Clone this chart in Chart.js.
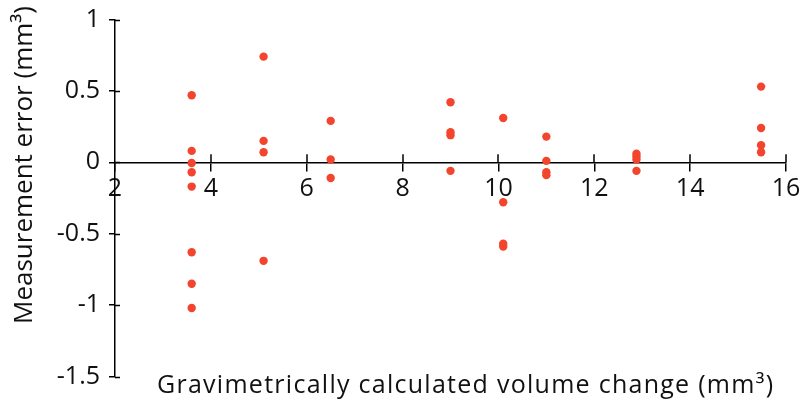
<!DOCTYPE html>
<html>
<head>
<meta charset="utf-8">
<script src="https://cdn.jsdelivr.net/npm/chart.js@4"></script>
<style>
  html, body { margin: 0; padding: 0; background: #fff; }
  #wrap { width: 808px; height: 409px; }
</style>
</head>
<body>
<div id="wrap"><canvas id="c" width="808" height="409"></canvas></div>
<script>
// ---- data ----
const volumeChange = [
  3.6, 3.6, 3.6, 3.6, 3.6, 3.6, 3.6, 3.6,
  5.1, 5.1, 5.1, 5.1,
  6.5, 6.5, 6.5,
  9.0, 9.0, 9.0, 9.0,
  10.1, 10.1, 10.1, 10.1,
  11.0, 11.0, 11.0, 11.0,
  12.88, 12.88, 12.88, 12.88,
  15.48, 15.48, 15.48, 15.48
];
const measurementError = [
  0.47, 0.08, -0.005, -0.07, -0.17, -0.63, -0.85, -1.02,
  0.74, 0.15, 0.07, -0.69,
  0.29, 0.02, -0.11,
  0.42, 0.21, 0.19, -0.06,
  0.31, -0.28, -0.57, -0.59,
  0.18, 0.01, -0.07, -0.09,
  0.06, 0.04, 0.02, -0.06,
  0.53, 0.24, 0.12, 0.07
];
const xTicks = [2, 4, 6, 8, 10, 12, 14, 16];
const yTicks = [-1.5, -1, -0.5, 0, 0.5, 1];
const xTitle = 'Gravimetrically calculated volume change (mm³)';
const yTitle = 'Measurement error (mm³)';

const FONT = '"Open Sans", sans-serif';
const points = volumeChange.map((x, i) => ({ x: x, y: measurementError[i] }));

function drawSpaced(ctx, text, cx, y, targetW) {
  ctx.letterSpacing = '0px';
  const w0 = ctx.measureText(text).width;
  const ls = Math.max(0, (targetW - w0) / (text.length - 1));
  ctx.letterSpacing = ls.toFixed(2) + 'px';
  ctx.textAlign = 'left';
  ctx.fillText(text, cx - targetW / 2, y);
  ctx.letterSpacing = '0px';
}

const extras = {
  id: 'extras',
  afterDraw(chart) {
    const ctx = chart.ctx;
    const xs = chart.scales.x, ys = chart.scales.y;
    const y0 = ys.getPixelForValue(0);
    const xl = xs.left;
    ctx.save();
    ctx.strokeStyle = '#000';
    ctx.lineWidth = 1.5;
    // inner halves of the crossing tick marks
    ctx.beginPath();
    xTicks.forEach(v => {
      const px = Math.round(xs.getPixelForValue(v));
      if (v === xTicks[0]) return;
      ctx.moveTo(px, y0); ctx.lineTo(px, y0 - 8);
    });
    yTicks.forEach(v => {
      const py = Math.round(ys.getPixelForValue(v)) + 0.5;
      ctx.moveTo(xl, py); ctx.lineTo(xl + 5, py);
    });
    ctx.stroke();
    // axis titles
    ctx.fillStyle = '#111';
    ctx.textBaseline = 'alphabetic';
    ctx.font = '25px ' + FONT;
    drawSpaced(ctx, xTitle, 465, 393, 616);
    ctx.font = '26px ' + FONT;
    ctx.translate(32, 165);
    ctx.rotate(-Math.PI / 2);
    ctx.textAlign = 'center';
    ctx.fillText(yTitle, 0, 0);
    ctx.restore();
  }
};

new Chart(document.getElementById('c'), {
  type: 'scatter',
  data: {
    datasets: [{
      data: points,
      backgroundColor: 'rgb(243,69,45)',
      borderColor: 'rgb(243,69,45)',
      borderWidth: 0,
      pointRadius: 4.2,
      pointHoverRadius: 4.2
    }]
  },
  options: {
    responsive: false,
    animation: false,
    events: [],
    layout: { padding: { left: 0, top: 19.5, right: 22, bottom: 32.5 } },
    plugins: { legend: { display: false }, tooltip: { enabled: false } },
    scales: {
      x: {
        type: 'linear',
        position: { y: 0 },
        min: 2, max: 16,
        afterBuildTicks: s => { s.ticks = xTicks.map(v => ({ value: v })); },
        ticks: {
          color: '#111',
          font: { family: FONT, size: 25 },
          padding: 4,
          maxRotation: 0,
          autoSkip: false,
          callback: v => String(v)
        },
        grid: { drawOnChartArea: false, drawTicks: true, tickLength: 8, color: '#000', lineWidth: 1.5 },
        border: { color: '#000', width: 1.5 }
      },
      y: {
        type: 'linear',
        position: 'left',
        min: -1.5, max: 1,
        afterBuildTicks: s => { s.ticks = yTicks.map(v => ({ value: v })); },
        afterFit: s => { s.width = 115; s.paddingTop = 0; s.paddingBottom = 0; },
        ticks: {
          color: '#111',
          font: { family: FONT, size: 25 },
          padding: 9,
          autoSkip: false,
          callback: v => String(v)
        },
        grid: { drawOnChartArea: false, drawTicks: true, tickLength: 6, color: '#000', lineWidth: 1.5 },
        border: { color: '#000', width: 1.5 }
      }
    }
  },
  plugins: [extras]
});
</script>
</body>
</html>
